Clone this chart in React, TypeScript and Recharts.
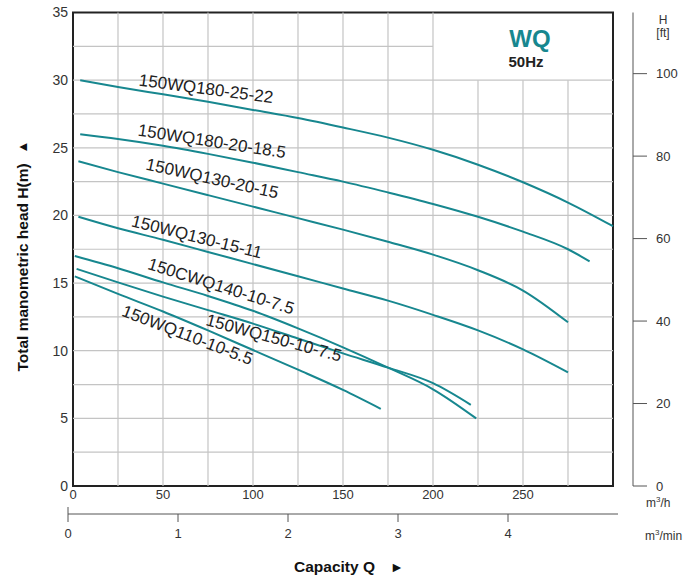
import React from "react";
import {
  Customized,
  Line,
  LineChart,
  ReferenceArea,
  ReferenceDot,
  ReferenceLine,
  XAxis,
  YAxis,
} from "recharts";

const TEAL = "#17878f";
const GRID = "#c4c4c4";
const INK = "#333";
const FONT = "'Liberation Sans', Arial, sans-serif";

// capacity Q (m³/h) and head H (m)
const Q_180_25_22 = [4, 25, 50, 75, 100, 125, 150, 175, 200, 225, 250, 275, 300];
const H_180_25_22 = [30.0, 29.5, 28.95, 28.4, 27.8, 27.2, 26.5, 25.75, 24.85, 23.75, 22.45, 20.95, 19.2];
const Q_180_20_185 = [4, 25, 50, 75, 100, 125, 150, 175, 200, 225, 250, 275, 287];
const H_180_20_185 = [26.0, 25.65, 25.15, 24.55, 23.9, 23.2, 22.5, 21.7, 20.85, 19.9, 18.8, 17.5, 16.6];
const Q_130_20_15 = [3, 25, 50, 75, 100, 125, 150, 175, 200, 225, 250, 275];
const H_130_20_15 = [24.0, 23.2, 22.35, 21.5, 20.65, 19.8, 18.95, 18.05, 17.1, 15.95, 14.45, 12.1];
const Q_130_15_11 = [3, 25, 50, 75, 100, 125, 150, 175, 200, 225, 250, 275];
const H_130_15_11 = [19.9, 19.05, 18.2, 17.3, 16.4, 15.5, 14.6, 13.7, 12.65, 11.5, 10.1, 8.4];
const Q_C140_10_75 = [1, 25, 50, 75, 100, 125, 150, 175, 200, 224];
const H_C140_10_75 = [17.0, 16.1, 15.05, 14.05, 12.95, 11.65, 10.25, 8.75, 7.15, 5.0];
const Q_150_10_75 = [2, 25, 50, 75, 100, 125, 150, 175, 200, 221];
const H_150_10_75 = [16.05, 15.05, 14.0, 13.0, 12.0, 10.9, 9.8, 8.75, 7.6, 6.0];
const Q_110_10_55 = [1, 25, 50, 75, 100, 125, 150, 171];
const H_110_10_55 = [15.5, 14.2, 12.9, 11.5, 10.05, 8.6, 7.1, 5.7];

const SERIES = [
  { name: "150WQ180-25-22", q: Q_180_25_22, h: H_180_25_22 },
  { name: "150WQ180-20-18.5", q: Q_180_20_185, h: H_180_20_185 },
  { name: "150WQ130-20-15", q: Q_130_20_15, h: H_130_20_15 },
  { name: "150WQ130-15-11", q: Q_130_15_11, h: H_130_15_11 },
  { name: "150CWQ140-10-7.5", q: Q_C140_10_75, h: H_C140_10_75 },
  { name: "150WQ150-10-7.5", q: Q_150_10_75, h: H_150_10_75 },
  { name: "150WQ110-10-5.5", q: Q_110_10_55, h: H_110_10_55 },
];

// where each curve name sits (start of baseline, in data units) and its slant
const LABEL_Q = [36.3, 35.7, 40, 32, 41, 73.3, 26.5];
const LABEL_H = [29.6, 25.9, 23.4, 19.2, 16.05, 11.9, 12.6];
const LABEL_ANGLE = [7.5, 8.7, 12.5, 14, 17.5, 15.2, 21];

const Q_TICKS = [0, 50, 100, 150, 200, 250];
const H_TICKS = [0, 5, 10, 15, 20, 25, 30, 35];
const FT_TICKS = [0, 20, 40, 60, 80, 100];
const MIN_TICKS = [0, 1, 2, 3, 4, 5];
const GRID_Q = [25, 50, 75, 100, 125, 150, 175, 200, 225, 250, 275];
const GRID_H = [2.5, 5, 7.5, 10, 12.5, 15, 17.5, 20, 22.5, 25, 27.5, 30, 32.5];

const Q_MAX = 300;
const H_MAX = 35;
const M_TO_FT = 3.28084;
const FT_SHIFT = 15; // the feet scale stands a little away from the frame

function MinuteTick(props: any) {
  const { x, y, payload } = props;
  const v = payload.value;
  const axisY = y - 8;
  if (v === MIN_TICKS[MIN_TICKS.length - 1]) return <g />;
  return (
    <g>
      <line x1={x} x2={x} y1={v === 0 ? axisY - 7 : axisY} y2={axisY + 8} stroke="#555" />
      <text x={x} y={axisY + 24} textAnchor="middle" fontSize={13} fill={INK} fontFamily={FONT}>
        {v}
      </text>
    </g>
  );
}

function FeetTick(props: any) {
  const { x, y, payload } = props;
  const axisX = x - 14 - 9 + FT_SHIFT;
  return (
    <g>
      <line x1={axisX} x2={axisX + 14} y1={y} y2={y} stroke="#555" />
      <text x={x + FT_SHIFT} y={y} dy="0.355em" fontSize={13} fill={INK} fontFamily={FONT}>
        {payload.value}
      </text>
    </g>
  );
}

function CurveName({ cx, cy, text, angle }: any) {
  return (
    <text
      x={cx}
      y={cy}
      transform={`rotate(${angle} ${cx} ${cy})`}
      fontSize={17}
      fill="#222"
      fontFamily={FONT}
    >
      {text}
    </text>
  );
}

function Annotations() {
  return (
    <g fontFamily={FONT}>
      <text x={530} y={47} textAnchor="middle" fontSize={24} fontWeight={900} fill={TEAL}>
        WQ
      </text>
      <text x={526} y={67} textAnchor="middle" fontSize={15} fontWeight={700} fill="#222">
        50Hz
      </text>
      <text x={663} y={24} textAnchor="middle" fontSize={12} fill={INK}>
        H
      </text>
      <text x={663} y={37} textAnchor="middle" fontSize={12} fill={INK}>
        [ft]
      </text>
      <text x={646} y={507} fontSize={12} fill={INK}>
        m<tspan dy={-5} fontSize={8}>3</tspan>
        <tspan dy={5}>/h</tspan>
      </text>
      <text x={645} y={540} fontSize={12} fill={INK}>
        m<tspan dy={-5} fontSize={8}>3</tspan>
        <tspan dy={5}>/min</tspan>
      </text>
      <text x={294} y={572} fontSize={15.5} fontWeight={700} fill="#111">
        Capacity Q
      </text>
      <text x={390} y={572} fontSize={14} fill="#111">
        ►
      </text>
      <text
        x={22}
        y={256}
        transform="rotate(-90 22 256)"
        textAnchor="middle"
        dominantBaseline="central"
        fontSize={15.5}
        fontWeight={700}
        fill="#111"
      >
        Total manometric head H(m)
        <tspan dx={10} fontSize={13}>▲</tspan>
      </text>
    </g>
  );
}

export default function App() {
  return (
    <div
      style={{
        position: "absolute",
        left: 0,
        top: 0,
        width: 688,
        height: 579,
        background: "#fff",
        fontFamily: FONT,
      }}
    >
      <LineChart width={688} height={579} margin={{ top: 12.5, right: 0, bottom: 25, left: 0 }}>
        <XAxis
          type="number"
          dataKey="q"
          domain={[0, Q_MAX]}
          ticks={Q_TICKS}
          padding={{ left: 5, right: 5 }}
          axisLine={false}
          tickLine={false}
          tickSize={0}
          tickMargin={4}
          height={28}
          tick={{ fontSize: 13, fill: INK }}
        />
        <XAxis
          xAxisId="min"
          dataKey="min"
          type="number"
          domain={[0, Q_MAX / 60]}
          allowDataOverflow
          ticks={MIN_TICKS}
          interval={0}
          axisLine={{ stroke: "#555" }}
          tickLine={false}
          tickSize={8}
          tickMargin={0}
          height={40}
          tick={<MinuteTick />}
        />
        <YAxis
          type="number"
          domain={[0, H_MAX]}
          ticks={H_TICKS}
          width={68}
          axisLine={false}
          tickLine={false}
          tickSize={0}
          tickMargin={0}
          tick={{ fontSize: 14, fill: INK }}
        />
        <YAxis
          yAxisId="ft"
          orientation="right"
          type="number"
          domain={[0, H_MAX * M_TO_FT]}
          allowDataOverflow
          ticks={FT_TICKS}
          interval={0}
          width={70}
          axisLine={{ stroke: "#555", transform: `translate(${FT_SHIFT} 0)` }}
          tickLine={false}
          tickSize={14}
          tickMargin={9}
          tick={<FeetTick />}
        />

        {GRID_Q.map((q) => (
          <ReferenceLine
            key={`gq${q}`}
            segment={[
              { x: q, y: 0 },
              { x: q, y: q > 200 ? 30 : H_MAX },
            ]}
            stroke={GRID}
            strokeWidth={1.2}
          />
        ))}
        {GRID_H.map((h) => (
          <ReferenceLine
            key={`gh${h}`}
            segment={[
              { x: 0, y: h },
              { x: h > 30 ? 200 : Q_MAX, y: h },
            ]}
            stroke={GRID}
            strokeWidth={1.2}
          />
        ))}

        {SERIES.map((s) => (
          <Line
            key={s.name}
            name={s.name}
            data={s.q.map((q, i) => ({ q, h: s.h[i] }))}
            dataKey="h"
            type="monotone"
            stroke={TEAL}
            strokeWidth={2}
            dot={false}
            activeDot={false}
            isAnimationActive={false}
          />
        ))}

        <ReferenceArea
          x1={0}
          x2={Q_MAX}
          y1={0}
          y2={H_MAX}
          fill="none"
          fillOpacity={0}
          stroke="#222"
          strokeWidth={2}
          ifOverflow="visible"
        />

        {SERIES.map((s, i) => (
          <ReferenceDot
            key={`lbl${i}`}
            x={LABEL_Q[i]}
            y={LABEL_H[i]}
            r={0}
            ifOverflow="visible"
            shape={(p: any) => <CurveName cx={p.cx} cy={p.cy} text={s.name} angle={LABEL_ANGLE[i]} />}
          />
        ))}

        <Customized component={Annotations} />
      </LineChart>
    </div>
  );
}
